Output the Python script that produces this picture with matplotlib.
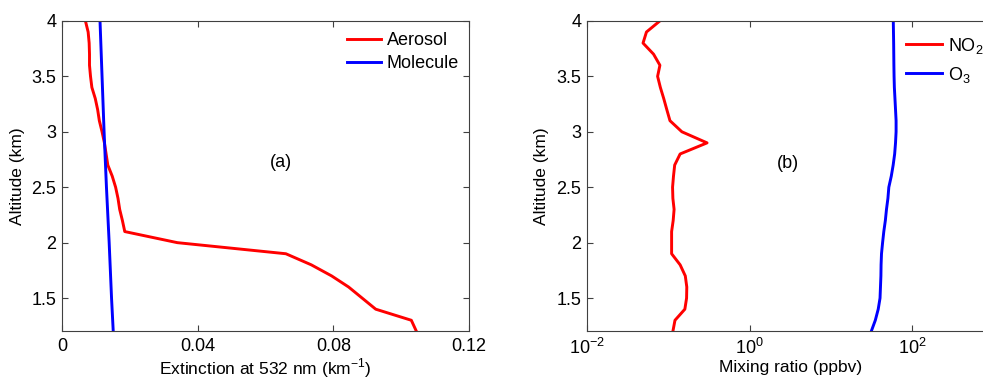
import matplotlib
matplotlib.use('Agg')
import matplotlib.pyplot as plt
from matplotlib.ticker import FixedLocator, NullLocator

plt.rcParams['font.family'] = 'Liberation Sans'
plt.rcParams['mathtext.fontset'] = 'custom'
plt.rcParams['mathtext.rm'] = 'Liberation Sans'

# altitude grid (km)
alt = [1.2, 1.3, 1.4, 1.5, 1.6, 1.7, 1.8, 1.9, 2.0, 2.1, 2.2, 2.3, 2.4, 2.5, 2.6,
       2.7, 2.8, 2.9, 3.0, 3.1, 3.2, 3.3, 3.4, 3.5, 3.6, 3.7, 3.8, 3.9, 4.0]

# (a) extinction at 532 nm (km^-1)
aerosol = [0.1045, 0.1030, 0.0925, 0.0885, 0.0845, 0.0795, 0.0735, 0.0660, 0.0340,
           0.0185, 0.0178, 0.0170, 0.0165, 0.0158, 0.0148, 0.0135, 0.0130, 0.0125,
           0.0118, 0.0110, 0.0105, 0.0098, 0.0088, 0.0084, 0.0081, 0.0081, 0.0080,
           0.0077, 0.0069]
mol_alt = [1.2, 1.5, 2.0, 2.5, 3.0, 3.5, 4.0]
molecule = [0.0151, 0.0146, 0.0139, 0.0131, 0.0124, 0.0118, 0.0112]

# (b) mixing ratio (ppbv)
no2 = [0.114, 0.121, 0.160, 0.168, 0.169, 0.162, 0.140, 0.110, 0.110, 0.110, 0.115,
       0.118, 0.114, 0.113, 0.116, 0.120, 0.140, 0.300, 0.147, 0.105, 0.096, 0.088,
       0.080, 0.074, 0.079, 0.066, 0.049, 0.054, 0.079]
o3 = [31.2, 35.0, 38.0, 40.0, 40.5, 41.0, 41.2, 41.7, 43.0, 44.5, 46.5, 48.0, 50.0,
      51.3, 55.0, 58.0, 60.5, 62.0, 63.0, 63.0, 62.0, 61.0, 60.0, 59.5, 59.2, 59.0,
      58.8, 58.5, 58.2]

FS = 12.5
TFS = 13
LW = 2.1
RED = '#ff0000'
BLUE = '#0000ff'
SPINE = '#404040'

fig = plt.figure(figsize=(9.83, 3.8), dpi=100)


def style(ax):
    for s in ax.spines.values():
        s.set_color(SPINE)
        s.set_linewidth(0.8)
    ax.tick_params(direction='in', top=True, right=True, length=4,
                   color=SPINE, labelsize=TFS, which='both')
    ax.tick_params(axis='x', pad=5)
    ax.tick_params(axis='y', pad=4)
    ax.set_ylim(1.2, 4)
    ax.yaxis.set_major_locator(FixedLocator([1.5, 2, 2.5, 3, 3.5, 4]))
    ax.set_yticklabels(['1.5', '2', '2.5', '3', '3.5', '4'])
    ax.set_ylabel('Altitude (km)', fontsize=FS, labelpad=5)


# ── panel (a) ──
ax1 = fig.add_axes([0.0631, 0.128, 0.414, 0.817])
ax1.plot(aerosol, alt, color=RED, lw=LW, label='Aerosol')
ax1.plot(molecule, mol_alt, color=BLUE, lw=LW, label='Molecule')
ax1.set_xlim(0, 0.12)
ax1.xaxis.set_major_locator(FixedLocator([0, 0.04, 0.08, 0.12]))
ax1.set_xticklabels(['0', '0.04', '0.08', '0.12'])
style(ax1)
ax1.set_xlabel('Extinction at 532 nm (km$^{-1}$)', fontsize=FS, labelpad=1)
ax1.text(0.0646, 2.72, '(a)', fontsize=TFS, ha='center', va='center')
ax1.legend(loc='upper left', bbox_to_anchor=(0.66, 1.015), frameon=False,
           fontsize=TFS, handlelength=1.9, handletextpad=0.3, labelspacing=0.3)

# ── panel (b) ──
ax2 = fig.add_axes([0.597, 0.128, 0.414, 0.817])
ax2.plot(no2, alt, color=RED, lw=LW, label='NO$_2$')
ax2.plot(o3, alt, color=BLUE, lw=LW, label='O$_3$')
ax2.set_xscale('log')
ax2.set_xlim(1e-2, 1e3)
ax2.xaxis.set_major_locator(FixedLocator([1e-2, 1e0, 1e2]))
ax2.xaxis.set_minor_locator(NullLocator())
ax2.set_xticklabels(['$10^{-2}$', '$10^{0}$', '$10^{2}$'])
style(ax2)
ax2.set_xlabel('Mixing ratio (ppbv)', fontsize=FS, labelpad=1)
ax2.text(2.98, 2.71, '(b)', fontsize=TFS, ha='center', va='center')
ax2.legend(loc='upper left', bbox_to_anchor=(0.745, 1.005), frameon=False,
           fontsize=TFS, handlelength=2.0, handletextpad=0.3, labelspacing=0.5)

fig.savefig('out.png', dpi=100)
plt.close(fig)
